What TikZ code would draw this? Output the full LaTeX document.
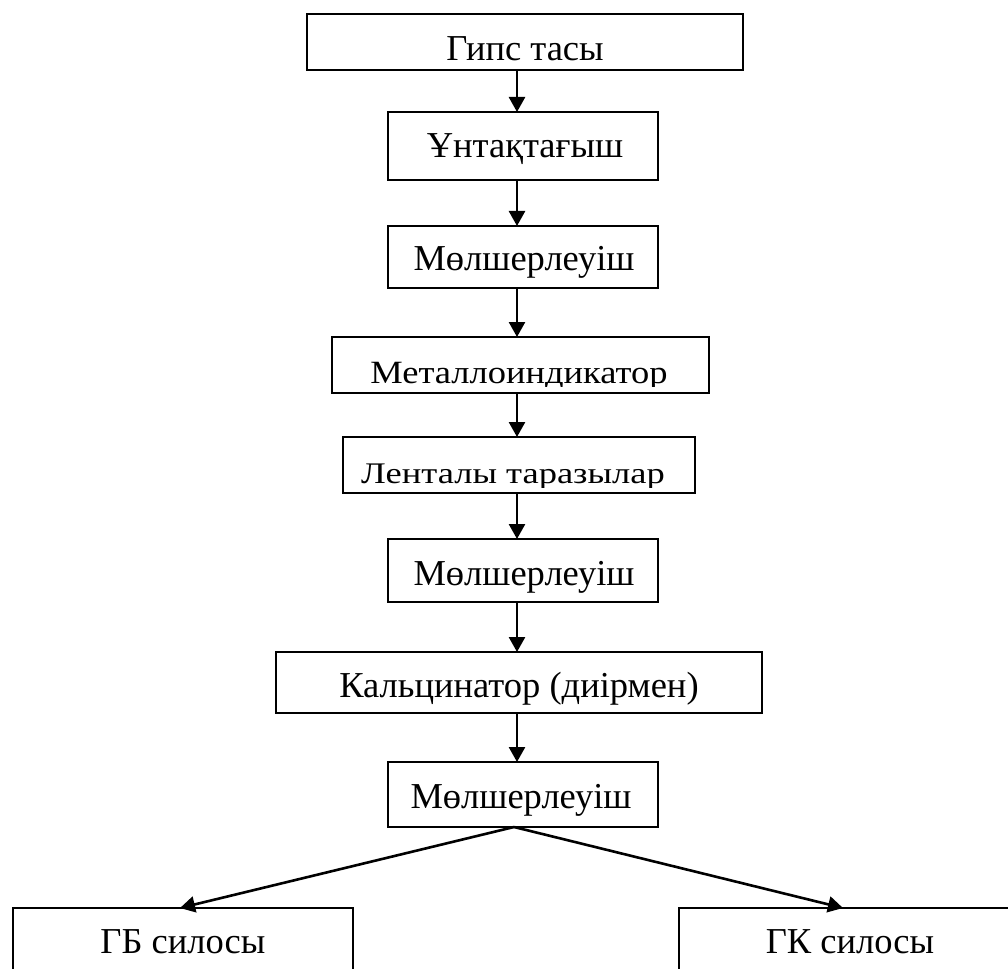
\documentclass[tikz,border=0pt]{standalone}
\usepackage{fontspec}
\setmainfont{Liberation Serif}
\usetikzlibrary{arrows.meta}
\tikzset{
  boxnode/.style={draw, line width=2pt, inner sep=0pt, outer sep=0pt, rectangle},
  label/.style={anchor=base, inner sep=0pt, outer sep=0pt, font=\fontsize{36.5}{40}\selectfont},
  arr/.style={line width=2.6pt, -{Triangle[length=15pt,width=16pt]}}
}
\begin{document}
\begin{tikzpicture}[x=1pt,y=-1pt]
\useasboundingbox (0,0) rectangle (1008,968);
\clip (0,0) rectangle (1008,968);
% boxes
\node[boxnode, minimum width=436pt, minimum height=56pt] (b1) at (525,42) {};
\node[boxnode, minimum width=270pt, minimum height=68pt] (b2) at (523,146) {};
\node[boxnode, minimum width=270pt, minimum height=62pt] (b3) at (523,257) {};
\node[boxnode, minimum width=377pt, minimum height=56pt] (b4) at (520.5,365) {};
\node[boxnode, minimum width=352pt, minimum height=56pt] (b5) at (519,465) {};
\node[boxnode, minimum width=270pt, minimum height=63pt] (b6) at (523,570.5) {};
\node[boxnode, minimum width=486pt, minimum height=61pt] (b7) at (519,682.5) {};
\node[boxnode, minimum width=270pt, minimum height=65pt] (b8) at (523,794.5) {};
\node[boxnode, minimum width=340pt, minimum height=82pt] (bL) at (183,949) {};
\node[boxnode, minimum width=342pt, minimum height=82pt] (bR) at (850,949) {};
% texts
\node[label] (t1) at (525,61) {Гипс тасы};
\node[label] (t2) at (525,158) {Ұнтақтағыш};
\node[label] (t3) at (524,270) {Мөлшерлеуіш};
\begin{scope}
\clip ([yshift=7pt]b4.south west) rectangle (b4.north east);
\node[label] (t4) at (519,383) {\scalebox{1}[0.89]{Металлоиндикатор}};
\end{scope}
\begin{scope}
\clip ([yshift=6pt]b5.south west) rectangle (b5.north east);
\node[label] (t5) at (513,483) {\scalebox{1}[0.82]{Ленталы таразылар}};
\end{scope}
\node[label] (t6) at (524,585) {Мөлшерлеуіш};
\node[label] (t7) at (519,697) {Кальцинатор (диірмен)};
\node[label] (t8) at (521,808) {Мөлшерлеуіш};
\node[label] (tL) at (183,953) {ГБ силосы};
\node[label] (tR) at (850,953) {ГК силосы};
% connectors
\coordinate (ax) at (517,0);
\coordinate (fork) at (514,827);
\coordinate (tipL) at (180,0);
\coordinate (tipR) at (843,0);
\draw[arr] (b1.south -| ax) -- (b2.north -| ax);
\draw[arr] (b2.south -| ax) -- (b3.north -| ax);
\draw[arr] (b3.south -| ax) -- (b4.north -| ax);
\draw[arr] (b4.south -| ax) -- (b5.north -| ax);
\draw[arr] (b5.south -| ax) -- (b6.north -| ax);
\draw[arr] (b6.south -| ax) -- (b7.north -| ax);
\draw[arr] (b7.south -| ax) -- (b8.north -| ax);
\draw[arr] (b8.south -| fork) -- (bL.north -| tipL);
\draw[arr] (b8.south -| fork) -- (bR.north -| tipR);
\end{tikzpicture}
\end{document}
